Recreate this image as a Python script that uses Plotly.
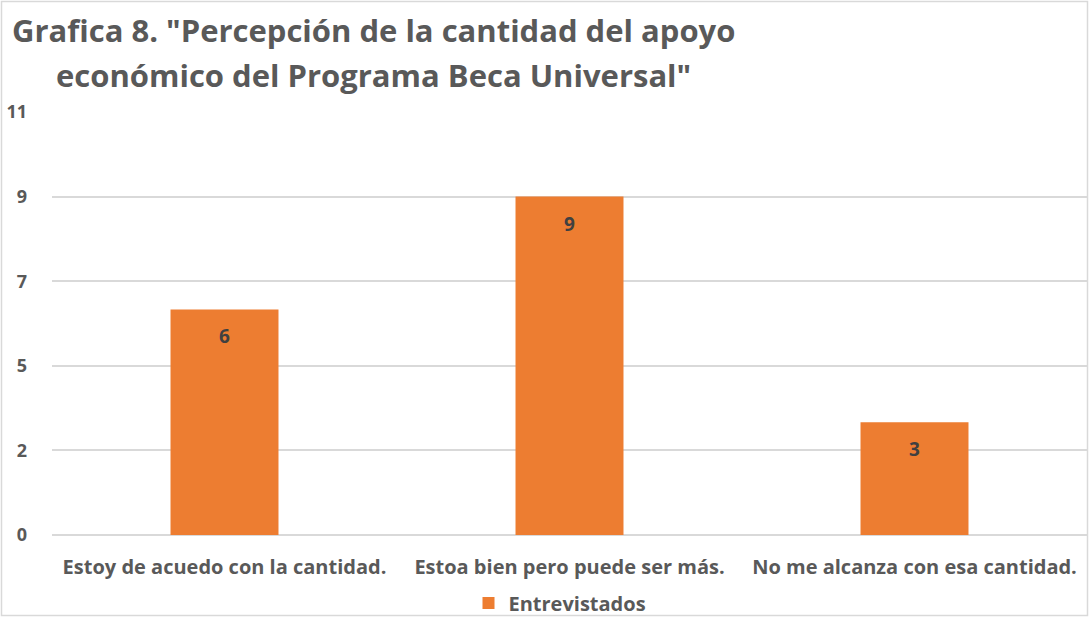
import plotly.graph_objects as go

categories = ["Estoy de acuedo con la cantidad.", "Estoa bien pero puede ser más.", "No me alcanza con esa cantidad."]
values = [6, 9, 3]
series_name = "Entrevistados"
tick_vals = [0, 2.25, 4.5, 6.75, 9, 11.25]
tick_text = ["0", "2", "5", "7", "9", "11"]
title_lines = ["Grafica 8. \"Percepción de la cantidad del apoyo", "económico del Programa Beca Universal\""]

W, H = 1089, 617
ml, mr, mt, mb = 52, 2, 112, 82
font_family = "Open Sans"
gray = "#595959"
orange = "#ED7D31"

fig = go.Figure()
fig.add_trace(go.Bar(
    x=categories, y=values, name=series_name,
    marker=dict(color=orange, line=dict(width=0)),
    showlegend=True,
))

def px_x(p):
    return (p - ml) / (W - ml - mr)

def px_y(p):
    return (H - mb - p) / (H - mt - mb)

annotations = []
for c, v in zip(categories, values):
    annotations.append(dict(text=f"<b>{v}</b>", x=c, y=v, xref="x", yref="y", showarrow=False,
                            yanchor="middle", yshift=-27,
                            font=dict(family=font_family, size=19, color="#404040")))
for i, (line, yp) in enumerate(zip(title_lines, [30, 75])):
    annotations.append(dict(text=f"<b>{line}</b>", x=px_x(373), y=px_y(yp), xref="paper", yref="paper",
                            xanchor="center", yanchor="middle", showarrow=False,
                            font=dict(family=font_family, size=31, color=gray)))

fig.update_layout(
    width=W, height=H,
    margin=dict(l=ml, r=mr, t=mt, b=mb, autoexpand=False),
    paper_bgcolor="white", plot_bgcolor="white",
    bargap=0.687,
    font=dict(family=font_family, color=gray),
    xaxis=dict(showgrid=False, showline=False, ticks="", ticklabelstandoff=18,
               tickfont=dict(family=font_family, size=20, color=gray, weight="bold")),
    yaxis=dict(range=[0, 11.25], tickvals=tick_vals, ticktext=tick_text,
               showgrid=True, gridcolor="#D9D9D9", gridwidth=2,
               zeroline=True, zerolinecolor="#D9D9D9", zerolinewidth=2,
               showline=False, ticks="", ticklabelstandoff=24,
               tickfont=dict(family=font_family, size=18, color=gray, weight="bold")),
    legend=dict(orientation="h", x=px_x(560), xanchor="center", y=px_y(603), yanchor="middle",
                bgcolor="rgba(0,0,0,0)",
                font=dict(family=font_family, size=20, color=gray, weight="bold"),
                itemwidth=30, traceorder="normal"),
    annotations=annotations,
    shapes=[dict(type="rect", xref="paper", yref="paper",
                 x0=px_x(1.5), x1=px_x(W - 1.5), y0=px_y(H - 1.5), y1=px_y(1.5),
                 line=dict(color="#D9D9D9", width=1.5), fillcolor="rgba(0,0,0,0)", layer="below")],
)

fig.write_html("out.html", config={"displayModeBar": False},
               post_script="document.body.style.margin='0';document.body.style.overflow='hidden';")
